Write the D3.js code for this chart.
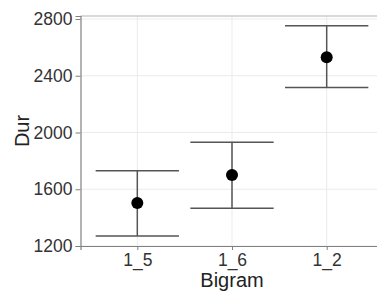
<!DOCTYPE html>
<html>
<head>
<meta charset="utf-8">
<script src="https://cdn.jsdelivr.net/npm/d3@7"></script>
<style>
  body { margin: 0; background: #fff; }
  svg text { font-family: "Liberation Sans", Arial, sans-serif; }
</style>
</head>
<body>
<div id="chart"></div>
<script>
// Data
const bigrams = ["1_5", "1_6", "1_2"];
const durMean = [1503, 1700, 2531];
const durLow = [1271, 1466, 2317];
const durHigh = [1731, 1932, 2752];
const yTicks = [1200, 1600, 2000, 2400, 2800];

const W = 377, H = 291;
const panel = { left: 80.5, right: 383.5, top: 16, bottom: 246 };

const svg = d3.select("#chart").append("svg")
    .attr("width", W)
    .attr("height", H);

// Scales
const x = d3.scalePoint()
    .domain(bigrams)
    .range([panel.left, panel.right])
    .padding(0.6);

const y = d3.scaleLinear()
    .domain([1200, 2821])
    .range([panel.bottom, panel.top]);

// Grid lines
svg.append("g")
    .selectAll("line")
    .data(yTicks)
    .join("line")
    .attr("x1", panel.left).attr("x2", panel.right)
    .attr("y1", d => y(d)).attr("y2", d => y(d))
    .attr("stroke", "#ebebeb").attr("stroke-width", 1);

svg.append("g")
    .selectAll("line")
    .data(bigrams)
    .join("line")
    .attr("x1", d => x(d)).attr("x2", d => x(d))
    .attr("y1", panel.top).attr("y2", panel.bottom)
    .attr("stroke", "#ebebeb").attr("stroke-width", 1);

// Panel top border
svg.append("line")
    .attr("x1", panel.left).attr("x2", panel.right)
    .attr("y1", panel.top).attr("y2", panel.top)
    .attr("stroke", "#b3b3b3").attr("stroke-width", 1);

// Axes
const yAxis = svg.append("g")
    .attr("transform", `translate(${panel.left},0)`)
    .call(d3.axisLeft(y).tickValues(yTicks).tickFormat(d3.format("d")).tickSize(5).tickPadding(3));

const xAxis = svg.append("g")
    .attr("transform", `translate(0,${panel.bottom})`)
    .call(d3.axisBottom(x).tickSize(4).tickPadding(4));

[yAxis, xAxis].forEach(g => {
    g.select(".domain").attr("stroke", "#808080").attr("stroke-width", 1.2);
    g.selectAll(".tick line").attr("stroke", "#808080");
    g.selectAll(".tick text")
        .attr("fill", "#333")
        .style("font-size", "17.5px");
});

// Error bars
const bars = svg.append("g");
const capHalf = x.step() * 0.44;
bigrams.forEach((b, i) => {
    bars.append("line")
        .attr("x1", x(b)).attr("x2", x(b))
        .attr("y1", y(durLow[i])).attr("y2", y(durHigh[i]))
        .attr("stroke", "#555").attr("stroke-width", 1.5);
    [durLow[i], durHigh[i]].forEach(v => {
        bars.append("line")
            .attr("x1", x(b) - capHalf).attr("x2", x(b) + capHalf)
            .attr("y1", y(v)).attr("y2", y(v))
            .attr("stroke", "#555").attr("stroke-width", 1.5);
    });
});

// Points
svg.append("g")
    .selectAll("circle")
    .data(bigrams)
    .join("circle")
    .attr("cx", d => x(d))
    .attr("cy", (d, i) => y(durMean[i]))
    .attr("r", 6)
    .attr("fill", "#000");

// Axis titles
svg.append("text")
    .attr("x", (panel.left + panel.right) / 2)
    .attr("y", 286.5)
    .attr("text-anchor", "middle")
    .attr("fill", "#222")
    .style("font-size", "20px")
    .text("Bigram");

svg.append("text")
    .attr("transform", `translate(29,${(panel.top + panel.bottom) / 2}) rotate(-90)`)
    .attr("text-anchor", "middle")
    .attr("fill", "#222")
    .style("font-size", "20px")
    .text("Dur");
</script>
</body>
</html>
